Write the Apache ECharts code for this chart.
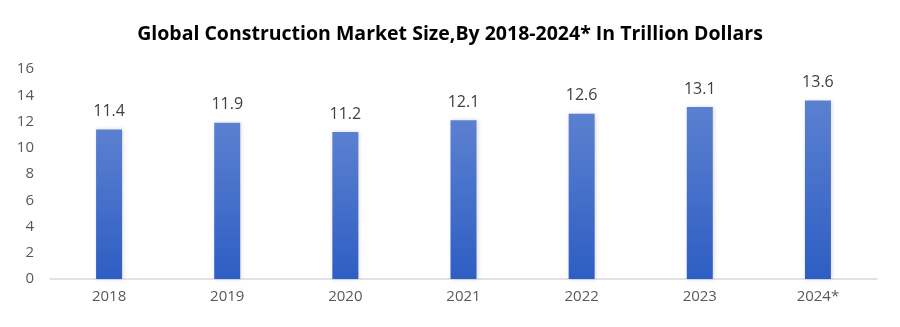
<!DOCTYPE html>
<html>
<head>
<meta charset="utf-8">
<script src="https://cdn.jsdelivr.net/npm/echarts@6/dist/echarts.min.js"></script>
<style>
  html, body { margin: 0; padding: 0; background: #ffffff; }
  #chart { width: 900px; height: 327px; }
</style>
</head>
<body>
<div id="chart"></div>
<script>
// Global construction market size, trillion USD
const years = ['2018', '2019', '2020', '2021', '2022', '2023', '2024*'];
const marketSize = [11.4, 11.9, 11.2, 12.1, 12.6, 13.1, 13.6];
const yTicks = { min: 0, max: 16, interval: 2 };
const titleText = 'Global Construction Market Size,By 2018-2024* In Trillion Dollars';

const chart = echarts.init(document.getElementById('chart'), null, { renderer: 'canvas' });

chart.setOption({
  backgroundColor: '#ffffff',
  animation: false,
  title: {
    text: titleText,
    left: 'center',
    top: 19,
    textStyle: {
      fontFamily: '"Open Sans", sans-serif',
      fontWeight: 'bold',
      fontSize: 19.5,
      color: '#000000'
    }
  },
  grid: { left: 50, right: 23, top: 69, bottom: 48 },
  xAxis: {
    type: 'category',
    data: years,
    axisLine: { show: true, lineStyle: { color: '#d9d9d9', width: 1.5 } },
    axisTick: { show: false },
    axisLabel: {
      margin: 10,
      fontFamily: '"Open Sans", sans-serif',
      fontSize: 15,
      color: '#595959'
    }
  },
  yAxis: {
    type: 'value',
    min: yTicks.min,
    max: yTicks.max,
    interval: yTicks.interval,
    axisLine: { show: false },
    axisTick: { show: false },
    splitLine: { show: false },
    axisLabel: {
      margin: 16,
      fontFamily: '"Open Sans", sans-serif',
      fontSize: 15,
      color: '#595959'
    }
  },
  series: [{
    type: 'bar',
    data: marketSize,
    barWidth: 26,
    itemStyle: {
      color: new echarts.graphic.LinearGradient(0, 0, 0, 1, [
        { offset: 0, color: '#5b80d0' },
        { offset: 1, color: '#2e5ec3' }
      ]),
      shadowColor: 'rgba(0,0,0,0.15)',
      shadowBlur: 4,
      shadowOffsetX: 1
    },
    label: {
      show: true,
      position: 'top',
      distance: 10,
      fontFamily: '"Open Sans", sans-serif',
      fontSize: 16,
      color: '#404040',
      formatter: p => p.value.toFixed(1)
    }
  }]
});
</script>
</body>
</html>
